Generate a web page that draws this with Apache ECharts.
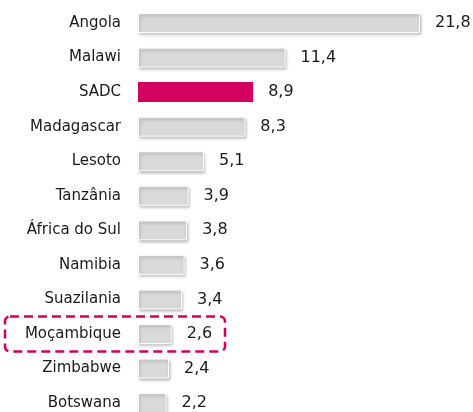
<!DOCTYPE html>
<html>
<head>
<meta charset="utf-8">
<script src="https://cdn.jsdelivr.net/npm/echarts@6/dist/echarts.min.js"></script>
<style>
  html, body { margin: 0; padding: 0; background: #fff; }
  #chart { width: 473px; height: 412px; }
</style>
</head>
<body>
<div id="chart"></div>
<script>
// dados
var paises = ['Angola', 'Malawi', 'SADC', 'Madagascar', 'Lesoto', 'Tanzânia',
  'África do Sul', 'Namibia', 'Suazilania', 'Moçambique', 'Zimbabwe', 'Botswana'];
var valores = [21.8, 11.4, 8.9, 8.3, 5.1, 3.9, 3.8, 3.6, 3.4, 2.6, 2.4, 2.2];
var destaque = 'SADC';
var marcado = 'Moçambique';

var chart = echarts.init(document.getElementById('chart'));

var dados = valores.map(function (v, i) {
  var item = { value: v };
  if (paises[i] === destaque) {
    item.itemStyle = { color: '#d4005f', borderWidth: 0, shadowColor: 'rgba(0,0,0,0)' };
  }
  return item;
});

var option = {
  animation: false,
  grid: { left: 138, right: 53, top: 5.7, height: 414.6, outerBoundsMode: 'none' },
  xAxis: {
    type: 'value', min: 0, max: 21.8, show: false
  },
  yAxis: {
    type: 'category',
    inverse: true,
    data: paises,
    axisLine: { show: false },
    axisTick: { show: false },
    axisLabel: {
      margin: 17,
      fontFamily: 'DejaVu Sans',
      fontSize: 15,
      color: '#1a1a1a'
    }
  },
  series: [{
    type: 'bar',
    data: dados,
    barWidth: 20,
    itemStyle: {
      color: '#d9d9d9',
      borderColor: '#ffffff',
      borderWidth: 1,
      shadowColor: 'rgba(0,0,0,0.3)',
      shadowBlur: 3,
      shadowOffsetX: 1,
      shadowOffsetY: 2
    },
    label: {
      show: true,
      position: 'right',
      distance: 15,
      fontFamily: 'DejaVu Sans',
      fontSize: 16,
      color: '#1a1a1a',
      formatter: function (p) { return String(p.value).replace('.', ','); }
    }
  }]
};
chart.setOption(option);

// caixa tracejada em Moçambique
var y = chart.convertToPixel({ yAxisIndex: 0 }, marcado);
chart.setOption({
  graphic: [{
    type: 'rect',
    shape: { x: 5, y: y - 17.5, width: 220, height: 35, r: 5 },
    style: { fill: 'none', stroke: '#d4005f', lineWidth: 2.5, lineDash: [9, 5] },
    z: 10
  }]
});
</script>
</body>
</html>
